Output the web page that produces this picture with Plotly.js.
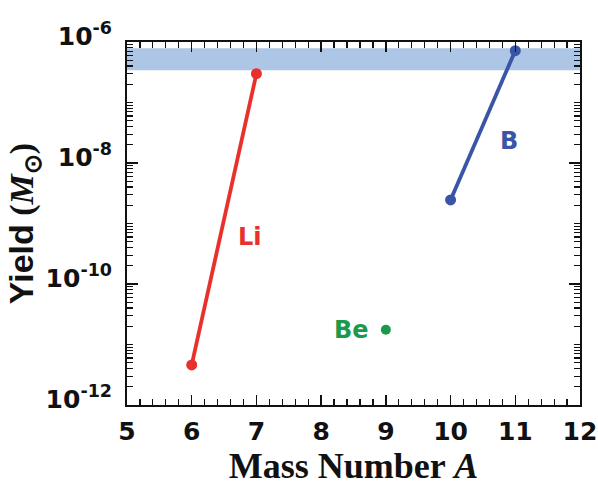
<!DOCTYPE html>
<html>
<head>
<meta charset="utf-8">
<script src="https://cdn.plot.ly/plotly-3.0.1.min.js"></script>
<style>html,body{margin:0;padding:0;background:#fff;}#chart{width:598px;height:487px;}</style>
</head>
<body>
<div id="chart"></div>
<script>
// Data
const liA = [6, 7];
const liYield = [4.6e-12, 3.0e-7];
const beA = [9];
const beYield = [1.75e-11];
const bA = [10, 11];
const bYield = [2.45e-9, 7.2e-7];
const bandA = [5, 12];
const bandYield = [3.4e-7, 7.9e-7]; // lower, upper
const yLabelVals = [1e-12, 1e-10, 1e-8, 1e-6];
const yLabelText = ['10<sup>-12</sup>', '10<sup>-10</sup>', '10<sup>-8</sup>', '10<sup>-6</sup>'];
const yOddDecades = [1e-11, 1e-9, 1e-7];

const red = '#e8312a', blue = '#3a55a6', green = '#1b9a4b';

const traces = [
  {x: [bandA[0], bandA[1], bandA[1], bandA[0]], y: [bandYield[0], bandYield[0], bandYield[1], bandYield[1]],
   fill: 'toself', fillcolor: '#adc6e6', line: {width: 0}, mode: 'lines', hoverinfo: 'skip', showlegend: false},
  {x: liA, y: liYield, mode: 'lines+markers', line: {color: red, width: 3.8}, marker: {color: red, size: 11}, showlegend: false},
  {x: beA, y: beYield, mode: 'markers', marker: {color: green, size: 10}, showlegend: false},
  {x: bA, y: bYield, mode: 'lines+markers', line: {color: blue, width: 3.8}, marker: {color: blue, size: 11}, showlegend: false}
];

const sans = 'DejaVu Sans, Liberation Sans, sans-serif';
const serif = 'Liberation Serif, Times New Roman, serif';

const layout = {
  width: 598, height: 487,
  margin: {l: 127, r: 18, t: 42, b: 82},
  paper_bgcolor: '#fff', plot_bgcolor: '#fff',
  showlegend: false,
  xaxis: {
    range: [5, 12], dtick: 1, tick0: 5,
    ticks: 'inside', ticklen: 10, tickwidth: 1.5, tickcolor: '#111',
    minor: {dtick: 0.2, ticks: 'inside', ticklen: 6, tickwidth: 1.2, tickcolor: '#111'},
    showline: true, linewidth: 2, linecolor: '#111', mirror: 'allticks',
    showgrid: false, zeroline: false,
    tickfont: {family: sans, size: 25, color: '#111', weight: 'bold'},
    ticklabelstandoff: 3,
    title: {text: '<b>Mass Number <i>A</i></b>', font: {family: serif, size: 36, color: '#111'}, standoff: 0}
  },
  yaxis: {
    type: 'log', range: [-12, -6],
    tickmode: 'array', tickvals: yLabelVals, ticktext: yLabelText,
    ticks: 'inside', ticklen: 11, tickwidth: 1.5, tickcolor: '#111',
    minor: {dtick: 'D1', ticks: 'inside', ticklen: 6, tickwidth: 1.2, tickcolor: '#111'},
    showline: true, linewidth: 2, linecolor: '#111', mirror: 'allticks',
    showgrid: false, zeroline: false,
    tickfont: {family: sans, size: 25, color: '#111', weight: 'bold'},
    ticklabelstandoff: 8,
    ticklabelshift: -6,
    title: {text: '<b><span style="font-family:Liberation Sans, Arial, sans-serif">Yield</span> (<i>M</i><sub>⊙</sub>)</b>',
            font: {family: serif, size: 34, color: '#111'}, standoff: 0}
  },
  yaxis2: {
    type: 'log', range: [-12, -6], overlaying: 'y', side: 'left',
    tickmode: 'array', tickvals: yOddDecades, showticklabels: false,
    ticks: 'inside', ticklen: 11, tickwidth: 1.5, tickcolor: '#111',
    showline: false, mirror: 'allticks', showgrid: false, zeroline: false
  },
  annotations: [
    {x: 6.9, y: Math.log10(6e-10), xref: 'x', yref: 'y', text: '<b>Li</b>', showarrow: false, font: {family: sans, size: 24, color: red}},
    {x: 8.47, y: Math.log10(1.75e-11), xref: 'x', yref: 'y', text: '<b>Be</b>', showarrow: false, font: {family: sans, size: 24, color: green}},
    {x: 10.9, y: Math.log10(2.3e-8), xref: 'x', yref: 'y', text: '<b>B</b>', showarrow: false, font: {family: sans, size: 24, color: blue}}
  ]
};

Plotly.newPlot('chart', traces, layout, {displayModeBar: false, staticPlot: true});
</script>
</body>
</html>
